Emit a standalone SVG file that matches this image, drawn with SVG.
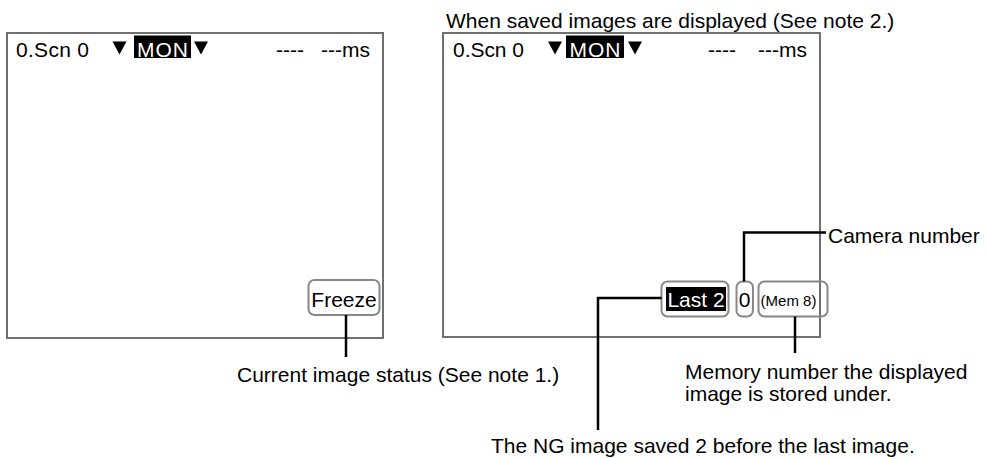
<svg xmlns="http://www.w3.org/2000/svg" width="987" height="459" viewBox="0 0 987 459">
<style>
text{font-family:"Liberation Sans",Arial,sans-serif;font-size:21px;fill:#000}
.wt{fill:#fff}
.scr{fill:#fff;stroke:#707070;stroke-width:2}
.call{fill:none;stroke:#888;stroke-width:2}
.conn{fill:none;stroke:#000;stroke-width:2.5}
</style>
<rect width="987" height="459" fill="#fff"/>
<text x="446" y="28">When saved images are displayed (See note 2.)</text>
<g id="screen1">
<rect class="scr" x="7" y="33" width="376" height="305"/>
<text x="16" y="56.5" textLength="73">0.Scn 0</text>
<polygon points="112.5,41.5 126.5,41.5 119.5,54.5"/>
<rect x="134" y="35.5" width="57" height="22.5" fill="#000"/>
<text class="wt" x="162.5" y="56.5" text-anchor="middle" textLength="51">MON</text>
<polygon points="194,41.5 208,41.5 201,54.5"/>
<text x="276" y="56.5">----</text>
<text x="370" y="56.5" text-anchor="end">---ms</text>
</g>
<g id="freeze">
<rect class="call" x="308.5" y="280" width="71" height="35" rx="6"/>
<text x="344" y="306.5" text-anchor="middle">Freeze</text>
</g>
<g id="screen2">
<rect class="scr" x="443" y="33" width="377" height="304"/>
<text x="453" y="56.5" textLength="71">0.Scn 0</text>
<polygon points="548,41.5 562,41.5 555,54.5"/>
<rect x="566" y="35.5" width="58" height="22.5" fill="#000"/>
<text class="wt" x="595" y="56.5" text-anchor="middle" textLength="51">MON</text>
<polygon points="628,41.5 642,41.5 635,54.5"/>
<text x="708" y="56.5">----</text>
<text x="807" y="56.5" text-anchor="end">---ms</text>
</g>
<g id="last2">
<rect class="call" x="661.5" y="281.5" width="67" height="35" rx="6"/>
<rect x="666" y="287" width="60" height="24" fill="#000"/>
<text class="wt" x="696" y="306.5" text-anchor="middle">Last 2</text>
</g>
<g id="camera">
<rect class="call" x="736.5" y="281.5" width="16.5" height="35" rx="6"/>
<text x="744.5" y="306.5" text-anchor="middle">0</text>
</g>
<g id="mem">
<rect class="call" x="758.5" y="281.5" width="69" height="35" rx="6"/>
<text x="788.5" y="306" text-anchor="middle" style="font-size:15px">(Mem 8)</text>
</g>
<g id="connectors">
<line class="conn" x1="346" y1="315" x2="346" y2="357"/>
<polyline class="conn" points="744,281.5 744,232.5 826,232.5"/>
<polyline class="conn" points="661.5,298 598,298 598,430"/>
<line class="conn" x1="795" y1="316.5" x2="795" y2="353"/>
</g>
<g id="labels">
<text x="237" y="382">Current image status (See note 1.)</text>
<text x="828" y="242.5">Camera number</text>
<text x="685" y="379">Memory number the displayed</text>
<text x="685" y="401">image is stored under.</text>
<text x="491" y="453">The NG image saved 2 before the last image.</text>
</g>
</svg>
